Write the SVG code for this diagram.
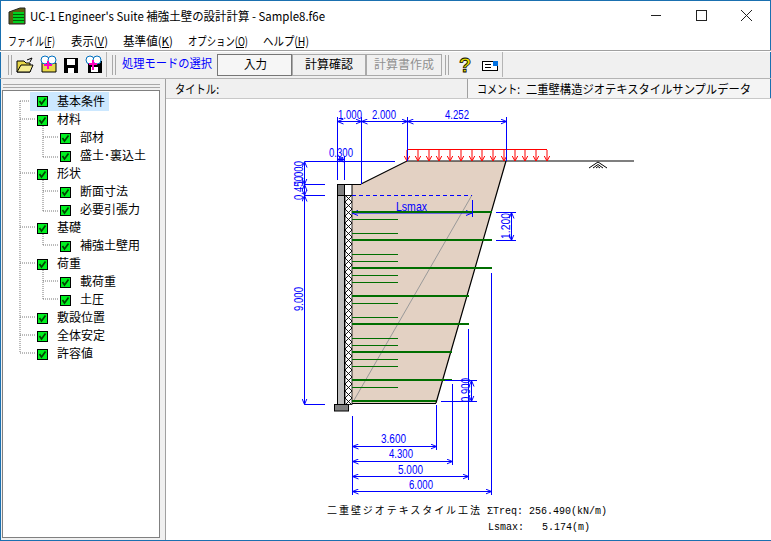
<svg xmlns="http://www.w3.org/2000/svg" xmlns:xlink="http://www.w3.org/1999/xlink" width="771" height="541" viewBox="0 0 771 541">
<style>
text{font-family:"Noto Sans CJK JP","Liberation Sans",sans-serif;font-size:12px;fill:#000;white-space:pre}
.d{font-family:"Liberation Sans",sans-serif;font-size:13px;fill:#0000ff}
.m{font-family:"Liberation Mono","Noto Sans CJK JP",monospace;font-size:10px}
.b{stroke:#0000ff;stroke-width:1;fill:none}
.bt{stroke:#0000ff;stroke-width:1;fill:none;marker-start:url(#as);marker-end:url(#ae)}
.g{stroke:#006e00;stroke-width:2;fill:none}
.t{stroke:#006e00;stroke-width:1;fill:none}
.r{stroke:#ff0000;stroke-width:1;fill:none;marker-end:url(#ar)}
.dot{stroke:#777;stroke-width:1;stroke-dasharray:1 1;fill:none}
.grip{stroke:#a8a8a8;stroke-width:1;fill:none}
</style>
<defs>
<marker id="ae" markerWidth="7" markerHeight="6" refX="6" refY="3" orient="auto" markerUnits="userSpaceOnUse"><path d="M0 0.5L6 3L0 5.5" fill="none" stroke="#0000ff"/></marker>
<marker id="as" markerWidth="7" markerHeight="6" refX="0" refY="3" orient="auto" markerUnits="userSpaceOnUse"><path d="M6 0.5L0 3L6 5.5" fill="none" stroke="#0000ff"/></marker>
<marker id="ar" markerWidth="6" markerHeight="8" refX="5.500" refY="4" orient="auto" markerUnits="userSpaceOnUse"><path d="M0 1L5.500 4L0 7" fill="none" stroke="#ff0000"/></marker>
<pattern id="x" width="7" height="7" patternUnits="userSpaceOnUse" x="345" y="195"><rect width="7" height="7" fill="#fff"/><path d="M0 0L7 7M7 0L0 7" stroke="#000" stroke-width="0.900"/></pattern>
<g id="chk"><rect x="0.500" y="0.500" width="10" height="10" fill="#00f020" stroke="#000"/><path d="M2.500 5L4.500 8L8.500 2.500" fill="none" stroke="#004000" stroke-width="1.700"/></g>
</defs>
<rect width="771" height="541" fill="#f0f0f0"/>
<g id="window">
<rect x="0" y="0" width="771" height="50" fill="#fff"/>
<rect x="0.500" y="0.500" width="770" height="540" fill="none" stroke="#1a70b0"/>
<path d="M9 12L20 8H25V24H9Z" fill="#5c5c10" stroke="#222"/>
<rect x="13" y="12" width="11" height="11" fill="#00d020"/>
<path d="M13 14.500H24M13 17.500H24M13 20.500H24" stroke="#006000"/>
<text x="30" y="21" textLength="295" lengthAdjust="spacingAndGlyphs">UC-1 Engineer's Suite 補強土壁の設計計算 - Sample8.f6e</text>
<path d="M651 15.500H661M741 10L752 21M752 10L741 21" stroke="#222" fill="none"/>
<rect x="696.500" y="10.500" width="10" height="10" fill="none" stroke="#222"/>
</g>
<g id="menu">
<text x="8" y="45.500" textLength="47" lengthAdjust="spacingAndGlyphs">ファイル(F)</text>
<text x="71" y="45.500" textLength="37" lengthAdjust="spacingAndGlyphs">表示(V)</text>
<text x="123" y="45.500" textLength="50" lengthAdjust="spacingAndGlyphs">基準値(K)</text>
<text x="188" y="45.500" textLength="60" lengthAdjust="spacingAndGlyphs">オプション(O)</text>
<text x="263" y="45.500" textLength="46" lengthAdjust="spacingAndGlyphs">ヘルプ(H)</text>
<path d="M45 47.500H51M97 47.500H104M162 47.500H169M236 47.500H244M296 47.500H304" stroke="#000"/>
</g>
<g id="toolbar">
<path d="M0 50.500H771" stroke="#a0a0a0"/>
<path d="M0 51.500H771" stroke="#fff"/>
<path class="grip" d="M8.500 55V75M11.500 55V75M112.500 55V75M115.500 55V75M445.500 55V75M448.500 55V75"/>
<path d="M106.500 52V77M502.500 52V77" stroke="#b4b4b4"/>
<g id="icon-open"><path d="M17 72V61H24L26 63H30V72Z" fill="#e8d848" stroke="#000"/><path d="M17 72L21 65H33L30 72Z" fill="#f4ec90" stroke="#000"/><path d="M27 60L32 58M32 58L30 62" stroke="#000" fill="none"/></g>
<g id="icon-open2"><path d="M42 72V63H56V72Z" fill="#e8d848" stroke="#000"/><circle cx="45" cy="60" r="4" fill="#fff" stroke="#0070c0"/><circle cx="52" cy="60" r="4" fill="#fff" stroke="#0070c0"/><path d="M48 61V69M44 65H52" stroke="#ff00c0" stroke-width="2"/></g>
<g id="icon-save"><rect x="64" y="58" width="14" height="15" fill="#000"/><rect x="67" y="59" width="8" height="6" fill="#fff"/><rect x="68" y="68" width="6" height="5" fill="#fff"/></g>
<g id="icon-save2"><rect x="88" y="61" width="14" height="12" fill="#000"/><rect x="91" y="67" width="7" height="5" fill="#fff"/><circle cx="90" cy="60" r="4" fill="#fff" stroke="#0070c0"/><circle cx="97" cy="60" r="4" fill="#fff" stroke="#0070c0"/><path d="M93 60V70M89 64H97" stroke="#ff00c0" stroke-width="2"/></g>
<text x="122" y="68" textLength="90" lengthAdjust="spacingAndGlyphs" style="fill:#0000ff">処理モードの選択</text>
<g id="btn-input"><rect x="217.500" y="54.500" width="74" height="21" fill="#f6f6f6" stroke="#777"/><text x="244" y="69" textLength="23" lengthAdjust="spacingAndGlyphs">入力</text></g>
<g id="btn-check"><rect x="292.500" y="54.500" width="73" height="21" fill="#f0f0f0" stroke="#aaa"/><text x="305" y="69" textLength="48" lengthAdjust="spacingAndGlyphs">計算確認</text></g>
<g id="btn-report"><rect x="366.500" y="54.500" width="75" height="21" fill="#f0f0f0" stroke="#aaa"/><text x="374" y="69" textLength="60" lengthAdjust="spacingAndGlyphs" style="fill:#909090">計算書作成</text></g>
<g id="icon-help"><text x="459" y="72" style="font-family:'Liberation Sans',sans-serif;font-size:20px;font-weight:bold;fill:#e8e000;stroke:#000;stroke-width:.8">?</text></g>
<g id="icon-info"><rect x="482.500" y="61.500" width="15" height="9" fill="#fff" stroke="#000"/><rect x="493" y="61" width="5" height="5" fill="#0070e0"/><path d="M485 64.500H491M485 67.500H491" stroke="#000"/></g>
</g>
<g id="panes">
<path d="M0 78.500H771" stroke="#b4b4b4"/>
<rect x="166" y="99" width="605" height="441" fill="#fff"/>
<path d="M165.500 79V540" stroke="#a0a0a0"/>
<path d="M166 98.500H771" stroke="#c8c8c8"/>
<path d="M467.500 79V98" stroke="#a0a0a0"/>
<rect x="468" y="79" width="302" height="19" fill="#f4f4f4"/>
<text x="175" y="94" textLength="44" lengthAdjust="spacingAndGlyphs">タイトル:</text>
<text x="477" y="94" textLength="43" lengthAdjust="spacingAndGlyphs">コメント:</text>
<text x="526" y="94" textLength="225" lengthAdjust="spacingAndGlyphs">二重壁構造ジオテキスタイルサンプルデータ</text>
<rect x="2.500" y="90.500" width="157" height="447" fill="#fff" stroke="#808080"/>
<path d="M3 84.500H160M3 87.500H160" stroke="#a8a8a8"/>
</g>
<g id="tree-lines">
<path class="dot" d="M20 101H36M20 101V353M20 119H36M20 173H36M20 227H36M20 263H36M20 317H36M20 335H36M20 353H36"/>
<path class="dot" d="M43 126V157M43 137H59M43 157H59M43 180V211M43 191H59M43 211H59M43 234V245M43 245H59M43 270V299M43 281H59M43 299H59"/>
</g>
<g id="tree">
<rect x="30" y="92" width="79" height="19" fill="#cce8ff"/>
<g id="n1"><use href="#chk" x="37" y="96"/><text x="57" y="106">基本条件</text></g>
<g id="n2"><use href="#chk" x="37" y="115"/><text x="57" y="124">材料</text></g>
<g id="n3"><use href="#chk" x="60" y="133"/><text x="80" y="142">部材</text></g>
<g id="n4"><use href="#chk" x="60" y="151"/><text x="80" y="160">盛土･裏込土</text></g>
<g id="n5"><use href="#chk" x="37" y="169"/><text x="57" y="178">形状</text></g>
<g id="n6"><use href="#chk" x="60" y="187"/><text x="80" y="196">断面寸法</text></g>
<g id="n7"><use href="#chk" x="60" y="205"/><text x="80" y="214">必要引張力</text></g>
<g id="n8"><use href="#chk" x="37" y="223"/><text x="57" y="232">基礎</text></g>
<g id="n9"><use href="#chk" x="60" y="241"/><text x="80" y="250">補強土壁用</text></g>
<g id="n10"><use href="#chk" x="37" y="259"/><text x="57" y="268">荷重</text></g>
<g id="n11"><use href="#chk" x="60" y="277"/><text x="80" y="286">載荷重</text></g>
<g id="n12"><use href="#chk" x="60" y="295"/><text x="80" y="304">土圧</text></g>
<g id="n13"><use href="#chk" x="37" y="313"/><text x="57" y="322">敷設位置</text></g>
<g id="n14"><use href="#chk" x="37" y="331"/><text x="57" y="340">全体安定</text></g>
<g id="n15"><use href="#chk" x="37" y="349"/><text x="57" y="358">許容値</text></g>
</g>
<g id="section">
<path d="M352 184H361L407 161H506L436 403H352Z" fill="#e3d1c3"/>
<path d="M361 184L407 161H634M506 161L436 403" fill="none" stroke="#000" stroke-width="1.200"/>
<path d="M352 184.500H361M352 403.500H436" stroke="#000" fill="none"/>
<rect x="337.500" y="184.500" width="7" height="11" fill="#808080" stroke="#000"/>
<rect x="344.500" y="184.500" width="7.500" height="11" fill="#fff" stroke="#000"/>
<rect x="337.500" y="195.500" width="7" height="209" fill="#c0c0c0" stroke="#000"/>
<rect x="345" y="195.500" width="7" height="209" fill="url(#x)" stroke="#000" stroke-width=".8"/>
<rect x="334.500" y="404.500" width="14" height="6.500" fill="#808080" stroke="#000"/>
<path d="M589 168L598 162L607 168M593 168L598 164.500L603 168M596 168L598 166.500L600 168" fill="none" stroke="#000"/>
<path d="M353 402L472 195" stroke="#999" stroke-width="1"/>
</g>
<g id="connectors">
<path class="bt" d="M352 213H472"/>
</g>
<g id="reinforcement">
<path class="t" d="M352 219.500H398M352 233.500H398M352 254.500H398M352 261.500H398M352 275.500H398M352 282.500H398M352 303.500H398M352 317.500H398M352 338.500H398M352 345.500H398M352 359.500H398M352 366.500H398M352 387.500H398"/>
<path class="g" d="M352 212H492M352 240H492M352 268H492M352 296H469M352 324H469M352 352H452M352 380H452M352 401H436"/>
</g>
<g id="dimensions">
<path class="r" d="M407 150V161"/><path class="r" d="M418 150V161"/><path class="r" d="M429 150V161"/><path class="r" d="M439 150V161"/><path class="r" d="M450 150V161"/><path class="r" d="M461 150V161"/><path class="r" d="M472 150V161"/><path class="r" d="M482 150V161"/><path class="r" d="M493 150V161"/><path class="r" d="M504 150V161"/><path class="r" d="M515 150V161"/><path class="r" d="M525 150V161"/><path class="r" d="M536 150V161"/><path class="r" d="M547 150V161"/>
<path d="M407 149.500H547" stroke="#ff0000" fill="none"/>
<path class="b" d="M337.500 117V180M361.500 117V184M407.500 117V161M506.500 117V161M344.500 156V180M304.500 161.500H395M304.500 184.500H325M304.500 195.500H325M304.500 404.500H325M472.500 200V217M352.500 416V495M436.500 405V450M452.500 384V465M468.500 329V480M491.500 273V495M496 212.500H516M496 240.500H516M441 401.500H477M445 380.500H477"/>
<path d="M352 195.500H472" stroke="#0000ff" stroke-dasharray="4 3" fill="none"/>
<path class="bt" d="M337.500 121.500H361.500"/><path class="bt" d="M361.500 121.500H407.500"/><path class="bt" d="M407.500 121.500H506.500"/>
<path class="bt" d="M337.500 159.500H344.500"/>
<path class="bt" d="M304.500 161.500V184.500"/><path class="bt" d="M304.500 184.500V195.500"/><path class="bt" d="M304.500 195.500V404.500"/>
<path class="bt" d="M511.500 212.500V240.500"/><path class="bt" d="M471.500 380.500V401.500"/>
<path class="bt" d="M352.500 446.500H436.500"/><path class="bt" d="M352.500 461.500H452.500"/><path class="bt" d="M352.500 476.500H468.500"/><path class="bt" d="M352.500 491.500H491.500"/>
</g>
<g id="labels">
<text class="d" x="338" y="119" textLength="24" lengthAdjust="spacingAndGlyphs">1.000</text>
<text class="d" x="372" y="119" textLength="24" lengthAdjust="spacingAndGlyphs">2.000</text>
<text class="d" x="445" y="119" textLength="24" lengthAdjust="spacingAndGlyphs">4.252</text>
<text class="d" x="329" y="157" textLength="24" lengthAdjust="spacingAndGlyphs">0.300</text>
<text class="d" x="396" y="211" textLength="31" lengthAdjust="spacingAndGlyphs">Lsmax</text>
<text class="d" transform="translate(510,239) rotate(-90)" textLength="26" lengthAdjust="spacingAndGlyphs">1.200</text>
<text class="d" transform="translate(303,311) rotate(-90)" textLength="24" lengthAdjust="spacingAndGlyphs">9.000</text>
<text class="d" transform="translate(303,200) rotate(-90)" textLength="24" lengthAdjust="spacingAndGlyphs">0.450</text>
<text class="d" transform="translate(303,185) rotate(-90)" textLength="24" lengthAdjust="spacingAndGlyphs">1.000</text>
<text class="d" transform="translate(470,402) rotate(-90)" textLength="24" lengthAdjust="spacingAndGlyphs">0.900</text>
<text class="d" x="381" y="443" textLength="25" lengthAdjust="spacingAndGlyphs">3.600</text>
<text class="d" x="389" y="458" textLength="24" lengthAdjust="spacingAndGlyphs">4.300</text>
<text class="d" x="398" y="473.500" textLength="25" lengthAdjust="spacingAndGlyphs">5.000</text>
<text class="d" x="409" y="488.500" textLength="24" lengthAdjust="spacingAndGlyphs">6.000</text>
<text x="327" y="514" textLength="153" style="font-size:10px">二重壁ジオテキスタイル工法</text>
<text class="m" x="487" y="514">ΣTreq: 256.490(kN/m)</text>
<text class="m" x="488" y="530">Lsmax:   5.174(m)</text>
</g>
</svg>
